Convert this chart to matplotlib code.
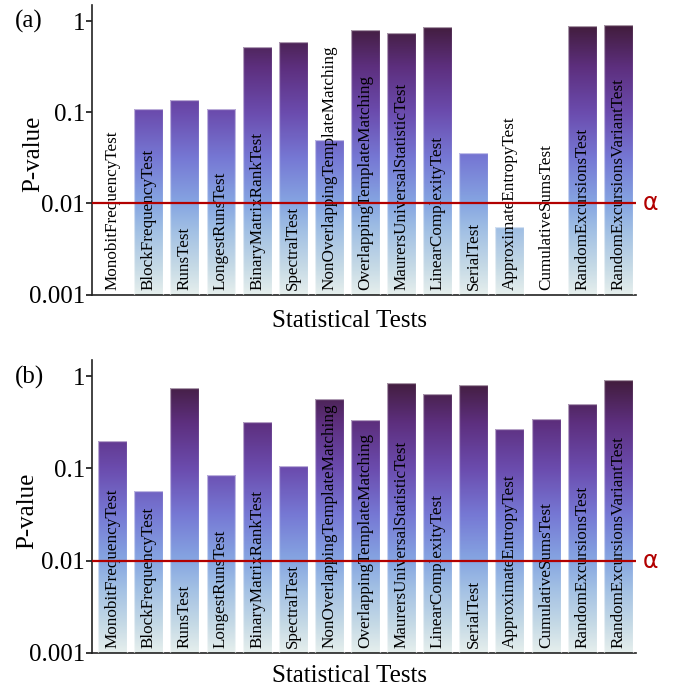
import numpy as np
import matplotlib
matplotlib.use("Agg")
import matplotlib.pyplot as plt
from matplotlib.colors import LinearSegmentedColormap
from matplotlib.ticker import FixedLocator, FixedFormatter, NullLocator
import matplotlib.transforms as mtransforms

# ---------------- data ----------------
tests = ["MonobitFrequencyTest", "BlockFrequencyTest", "RunsTest", "LongestRunsTest",
         "BinaryMatrixRankTest", "SpectralTest", "NonOverlappingTemplateMatching",
         "OverlappingTemplateMatching", "MaurersUniversalStatisticTest",
         "LinearComplexityTest", "SerialTest", "ApproximateEntropyTest",
         "CumulativeSumsTest", "RandomExcursionsTest", "RandomExcursionsVariantTest"]

pvalues_a = [0.0, 0.108, 0.137, 0.108, 0.52, 0.596, 0.0497, 0.79, 0.74, 0.85,
             0.0358, 0.00545, 0.0, 0.88, 0.91]
pvalues_b = [0.197, 0.0573, 0.74, 0.0856, 0.318, 0.106, 0.57, 0.337, 0.85, 0.646,
             0.80, 0.267, 0.345, 0.495, 0.90]

alpha_level = 0.01
ytick_vals = [0.001, 0.01, 0.1, 1]
ytick_labels = ["0.001", "0.01", "0.1", "1"]
panel_labels = ["(a)", "(b)"]

# ---------------- style ----------------
plt.rcParams["font.family"] = ["Liberation Serif", "DejaVu Serif"]
YMIN, YMAX = 0.001, 1.5
grad_logs = [-3.0, -2.7, -2.3, -2.0, -1.5, -1.0, -0.5, 0.0, np.log10(YMAX)]
grad_cols = ["#e6efed", "#c6dae6", "#a2c0e4", "#86a6e2", "#7678d4", "#6b4cae",
             "#5d2f7e", "#3f1b36", "#391730"]
lo, hi = np.log10(YMIN), np.log10(YMAX)
cmap = LinearSegmentedColormap.from_list(
    "grad", list(zip([(g - lo) / (hi - lo) for g in grad_logs], grad_cols)))
grad = np.linspace(0, 1, 512).reshape(-1, 1)

RED = "#b20000"

fig = plt.figure(figsize=(6.78, 6.92), dpi=100)
axes_rects = [[92 / 678, 1 - 294.5 / 692, 544 / 678, 289.5 / 692],
              [92 / 678, 1 - 652.7 / 692, 544 / 678, 292.7 / 692]]
ylab_x = [-0.108, -0.12]
xlab_y = [-0.09, -0.08]
panel_y = [1 - 21 / 692, 1 - 377 / 692]

for k, vals in enumerate([pvalues_a, pvalues_b]):
    ax = fig.add_axes(axes_rects[k])
    ax.set_yscale("log")
    x = np.arange(len(tests))
    ax.set_xlim(-0.57, len(tests) - 0.51)
    ax.set_ylim(YMIN, YMAX)
    ax.set_autoscale_on(False)
    bars = ax.bar(x, vals, width=0.8, facecolor="none",
                  edgecolor=(1, 1, 1, 0.55), linewidth=0.9, zorder=3)
    for b, v in zip(bars, vals):
        if v <= YMIN:
            continue
        im = ax.imshow(grad, extent=[0, 1, 0, 1], transform=ax.transAxes,
                       aspect="auto", cmap=cmap, origin="lower", zorder=2,
                       interpolation="bilinear")
        im.set_clip_path(b)
    ax.set_xlim(-0.57, len(tests) - 0.51)
    ax.set_ylim(YMIN, YMAX)

    for i, name in enumerate(tests):
        ax.text(i, 0.00112, name, rotation=90, ha="center", va="bottom",
                fontsize=12.3, color="black", zorder=4)

    ax.axhline(alpha_level, color=RED, lw=1.6, zorder=5)
    trans = mtransforms.blended_transform_factory(ax.transAxes, ax.transData)
    ax.text(1.012, alpha_level, "α", transform=trans, ha="left", va="center",
            color=RED, fontsize=17, family=["DejaVu Sans"])

    for s in ["top", "right"]:
        ax.spines[s].set_visible(False)
    for s in ["left", "bottom"]:
        ax.spines[s].set_linewidth(1.2)
        ax.spines[s].set_color("#222222")
    ax.yaxis.set_major_locator(FixedLocator(ytick_vals))
    ax.yaxis.set_major_formatter(FixedFormatter(ytick_labels))
    ax.yaxis.set_minor_locator(NullLocator())
    ax.set_xticks([])
    ax.tick_params(axis="y", labelsize=18, length=4, width=1.1, pad=1)

    ax.set_ylabel("P-value", fontsize=18, va="center")
    ax.yaxis.set_label_coords(ylab_x[k], 0.485)
    ax.set_xlabel("Statistical Tests", fontsize=18, va="center")
    ax.xaxis.set_label_coords(0.473, xlab_y[k])

    fig.text(0.022, panel_y[k], panel_labels[k], fontsize=18, va="center", ha="left")

fig.savefig("out.png", dpi=100)
